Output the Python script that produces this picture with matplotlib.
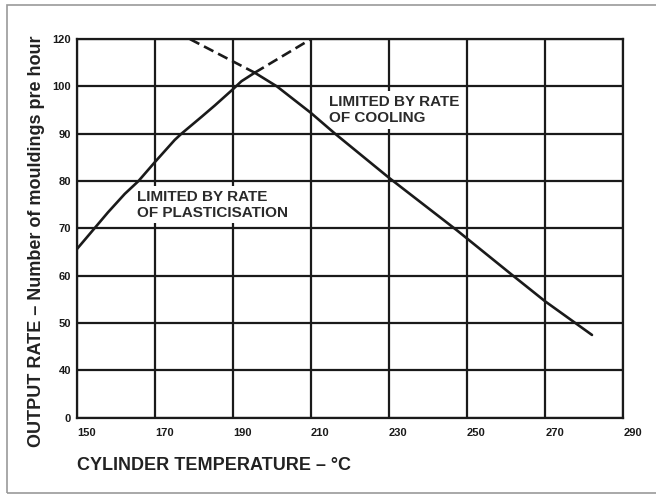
import matplotlib
matplotlib.use("Agg")
import matplotlib.pyplot as plt
from matplotlib.patches import Rectangle
import numpy as np

plt.rcParams['font.family'] = ['Liberation Sans', 'DejaVu Sans']

# output rate vs cylinder temperature
temp_plast = [150, 153.8, 158, 162.3, 165.8, 170, 175.1, 176.8, 182, 185.4, 190, 192.2, 195.6]
rate_plast = [65.6, 69.3, 73.4, 77.3, 80, 84, 88.7, 90, 93.6, 96, 99.4, 102.2, 105.8]
temp_plast_ext = [195.6, 210]
rate_plast_ext = [105.8, 120]

temp_cool_ext = [179, 195.6]
rate_cool_ext = [120, 105.8]
temp_cool = [195.6, 201.3, 210, 216.2, 230, 247.4, 261.5, 270, 282]
rate_cool = [105.8, 100, 94.4, 90, 80.7, 69.6, 60.2, 54.6, 47.5]

x_ticks = [150, 170, 190, 210, 230, 250, 270, 290]
y_ticks = [0, 40, 50, 60, 70, 80, 90, 100, 120]


# broken rate axis: 0-40 and 100-120 squeezed into one grid row each
def fwd(v):
    v = np.asarray(v, dtype=float)
    return np.where(v < 40, v / 4, np.where(v <= 100, v - 30, 70 + (v - 100) / 2))


def inv(p):
    p = np.asarray(p, dtype=float)
    return np.where(p < 10, p * 4, np.where(p <= 70, p + 30, 100 + (p - 70) * 2))


fig = plt.figure(figsize=(6.56, 4.95), dpi=100)
ax = fig.add_axes([0.117, 0.156, 0.833, 0.765])
ax.set_yscale('function', functions=(fwd, inv))

ink = '#1a1a1a'
lw = 1.9
ax.plot(temp_plast, rate_plast, color=ink, lw=lw, zorder=3, solid_capstyle='round')
ax.plot(temp_plast_ext, rate_plast_ext, color=ink, lw=lw, dashes=(4, 2), zorder=3)
ax.plot(temp_cool, rate_cool, color=ink, lw=lw, zorder=3, solid_capstyle='round')
ax.plot(temp_cool_ext, rate_cool_ext, color=ink, lw=lw, dashes=(4, 2), zorder=3)

ax.set_xlim(150, 290)
ax.set_ylim(0, 120)
ax.set_xticks(x_ticks)
ax.set_yticks(y_ticks)
ax.set_xticklabels([str(t) for t in x_ticks], fontsize=8, fontweight='bold', ha='left')
ax.set_yticklabels([str(t) for t in y_ticks], fontsize=8, fontweight='bold', va='center_baseline')
ax.tick_params(length=0, colors=ink)
ax.tick_params(axis='x', pad=7)
ax.tick_params(axis='y', pad=4)

ax.set_axisbelow(True)
ax.grid(True, color=ink, lw=1.6)
for s in ax.spines.values():
    s.set_color(ink)
    s.set_linewidth(1.6)

ax.set_xlabel('CYLINDER TEMPERATURE – °C', fontsize=13, fontweight='bold', color='#222222')
ax.xaxis.set_label_coords(0.0, -0.103)
ax.xaxis.label.set_ha('left')
ax.xaxis.label.set_va('top')
ax.set_ylabel('OUTPUT RATE – Number of mouldings pre hour', fontsize=13, fontweight='bold',
              color='#222222')
ax.yaxis.set_label_coords(-0.058, 0.467)

box = dict(boxstyle='square,pad=0.25', fc='white', ec='none')
ax.text(165.4, 75.0, 'LIMITED BY RATE\nOF PLASTICISATION', fontsize=11, fontweight='bold',
        color='#2a2a2a', ha='left', va='center', linespacing=1.15, bbox=box, zorder=1)
ax.text(214.6, 95.0, 'LIMITED BY RATE\nOF COOLING', fontsize=11, fontweight='bold',
        color='#2a2a2a', ha='left', va='center', linespacing=1.15, bbox=box, zorder=1)

# thin grey frame round the figure
fig.patches.append(Rectangle((7 / 656, 2 / 495), 1.2, 488 / 495, transform=fig.transFigure,
                             fill=False, ec='#999999', lw=1.2))

fig.savefig('out.png', dpi=100)
